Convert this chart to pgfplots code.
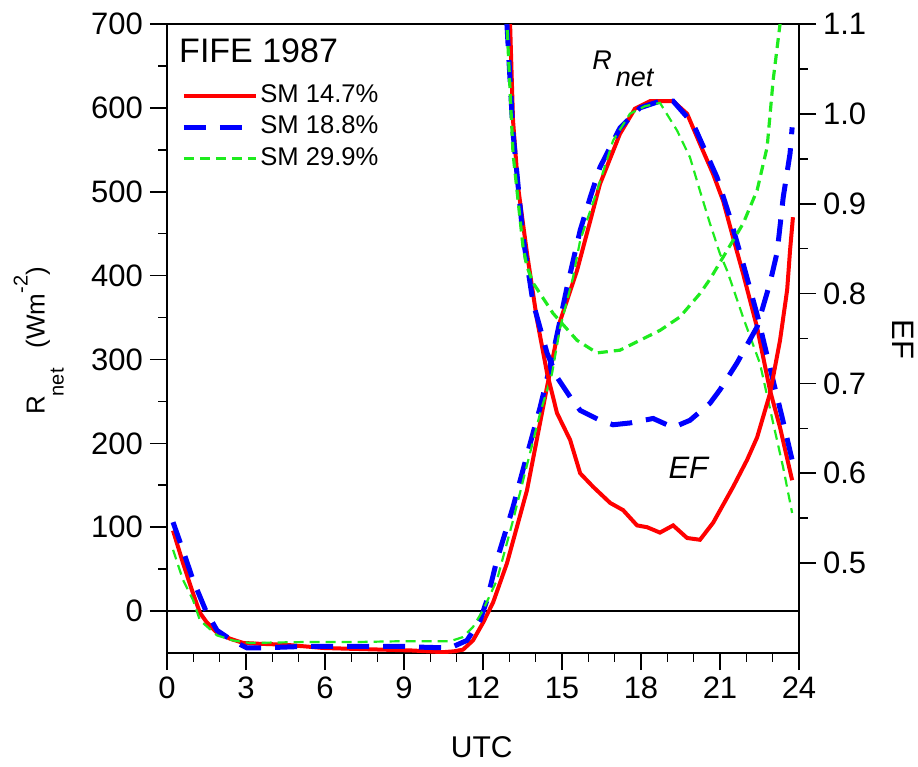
\documentclass[border=0pt]{standalone}
\usepackage{pgfplots}
\pgfplotsset{compat=1.18}
\usepackage{fontspec}
\setmainfont{Liberation Sans}

\definecolor{smred}{RGB}{255,0,0}
\definecolor{smblue}{RGB}{0,0,255}
\definecolor{smgreen}{RGB}{30,235,30}

% ---------- net radiation (W m^-2) ----------
\pgfplotstableread{
x y
0.23 96
0.61 57
1.00 20
1.25 -2
1.50 -13
1.90 -26
2.40 -33
2.89 -38
3.50 -39
4.41 -40
5.20 -42
5.92 -44
7.00 -45
8.20 -46
9.30 -47
10.48 -49
10.90 -48
11.24 -46
11.62 -35
12.00 -14
12.38 10
12.91 57
13.67 144
14.43 267
14.93 346
15.57 406
16.07 465
16.44 509
17.20 569
17.77 599
18.34 608
19.22 608
19.75 593
20.24 557
20.74 521
21.12 489
21.50 445
21.88 402
22.41 338
22.90 263
23.28 219
23.74 156
}\rnetA

\pgfplotstableread{
x y
0.23 106
0.61 72
0.99 37
1.48 0
1.90 -23
2.47 -35
3.04 -44
3.53 -44
5.32 -42
7.22 -42
8.96 -42
9.60 -43
10.75 -44
11.39 -35
11.89 -11
12.15 13
12.53 61
13.14 124
13.67 186
14.17 243
14.66 307
15.19 386
15.69 454
16.07 493
16.44 529
17.20 576
17.96 600
18.72 608
19.22 608
19.98 581
20.89 517
21.38 469
21.88 414
22.44 350
22.90 290
23.36 231
23.74 180
}\rnetB

\pgfplotstableread{
x y
0.23 73
0.61 37
0.99 13
1.25 -11
1.90 -29
2.50 -35
3.15 -38
5.05 -37
6.95 -37
8.85 -36
10.75 -36
11.24 -31
11.62 -19
12.00 1
12.53 37
13.14 108
13.67 174
14.17 236
14.62 283
14.93 338
15.42 398
15.69 442
16.33 501
16.94 561
17.58 593
18.15 602
18.72 606
19.37 573
19.86 541
20.24 501
20.62 462
21.00 426
21.27 406
21.88 350
22.52 295
23.02 224
23.40 171
23.74 117
}\rnetC

% ---------- evaporative fraction ----------
\pgfplotstableread{
x y
12.95 1.18
13.03 1.099
13.14 0.993
13.33 0.919
13.67 0.845
14.05 0.771
14.43 0.712
14.81 0.667
15.31 0.637
15.69 0.600
16.18 0.585
16.83 0.567
17.32 0.559
17.85 0.542
18.23 0.540
18.72 0.534
19.22 0.542
19.75 0.528
20.24 0.526
20.74 0.545
21.50 0.585
22.03 0.615
22.41 0.640
22.90 0.689
23.28 0.748
23.55 0.804
23.66 0.848
23.77 0.885
}\efA

\pgfplotstableread{
x y
12.80 1.22
12.91 1.099
13.14 0.979
13.52 0.863
13.90 0.790
14.43 0.734
14.81 0.707
15.31 0.685
15.69 0.670
16.44 0.659
16.94 0.654
17.58 0.656
18.46 0.661
19.22 0.651
19.86 0.659
20.62 0.678
21.00 0.693
21.65 0.723
22.41 0.763
22.90 0.812
23.17 0.846
23.40 0.907
23.66 0.956
23.74 0.985
}\efB

\pgfplotstableread{
x y
12.75 1.20
12.91 1.10
13.14 0.956
13.52 0.852
13.67 0.830
13.90 0.812
14.66 0.778
15.57 0.748
16.33 0.734
17.20 0.737
17.96 0.748
18.72 0.759
19.48 0.774
20.24 0.800
20.62 0.816
21.27 0.848
21.88 0.878
22.41 0.915
22.79 0.963
23.02 1.038
23.28 1.100
23.45 1.180
}\efC

\pgfplotsset{
  sm147/.style={color=smred, line width=2pt, solid},
  sm188/.style={color=smblue, line width=2.5pt, dash pattern=on 11pt off 7pt},
  sm299/.style={color=smgreen, line width=1.2pt, dash pattern=on 5pt off 3pt},
  common/.style={
    at={(0,0)}, anchor=south west,
    scale only axis, width=316pt, height=314.5pt,
    xmin=0, xmax=24,
    tick align=outside,
    major tick length=8.5pt, minor tick length=4.3pt,
    tick style={black, line width=0.8pt},
    axis line style={line width=0.8pt},
    tick label style={font=\fontsize{15.5}{15.5}\selectfont},
    /pgf/number format/assume math mode=true,
  },
}

\begin{document}
\begin{tikzpicture}
\path[use as bounding box] (-83.5pt,-57pt) rectangle (375.5pt,326.5pt);

\begin{axis}[common,
  ymin=-50, ymax=700,
  xtick={0,3,...,24}, minor x tick num=2,
  ytick={0,100,...,700}, minor ytick={50,150,...,650},
  xtick pos=left, ytick pos=left,
  xlabel={UTC},
  xlabel style={font=\fontsize{15}{15}\selectfont, at={(axis description cs:0.498,-0.149)}, anchor=center},
  ylabel={R\raisebox{-9.5pt}{\fontsize{10}{10}\selectfont net}\hspace{10pt}(Wm\raisebox{8.5pt}{\fontsize{10}{10}\selectfont -2})},
  ylabel style={font=\fontsize{13}{13}\selectfont, at={(axis description cs:-0.203,0.496)}, anchor=center},
  legend style={at={(axis description cs:0.022,0.908)}, anchor=north west,
    draw=none, fill=none, font=\fontsize{12.8}{12.8}\selectfont,
    inner sep=0pt, row sep=2.2pt,
    nodes={inner sep=1pt, text height=9pt, text depth=2.5pt}},
  legend image code/.code={\draw[#1] (0pt,0pt) -- (36pt,0pt);},
  legend cell align=left,
]
\addplot[black, line width=0.6pt, forget plot] coordinates {(0,0) (24,0)};
\addplot[sm147] table {\rnetA};
\addlegendentry{SM 14.7\%}
\addplot[sm188] table {\rnetB};
\addlegendentry{SM 18.8\%}
\addplot[sm299, line width=1.1pt] table {\rnetC};
\addlegendentry{SM 29.9\%}

\node[anchor=west, inner sep=0pt, font=\fontsize{17}{17}\selectfont] at (axis cs:0.45,668) {FIFE 1987};
\node[anchor=base west, inner sep=0pt, font=\fontsize{13.5}{13.5}\selectfont\itshape] at (axis cs:16.14,646) {R\hspace{2pt}\raisebox{-8.5pt}{net}};
\node[anchor=base west, inner sep=0pt, font=\fontsize{15.5}{15.5}\selectfont\itshape] at (axis cs:19.03,158) {EF};
\end{axis}

\begin{axis}[common,
  ymin=0.4, ymax=1.1,
  axis x line=none, axis y line*=right,
  ytick={0.5,0.6,0.7,0.8,0.9,1.0,1.1},
  minor ytick={0.55,0.65,0.75,0.85,0.95,1.05},
  yticklabel style={/pgf/number format/.cd, fixed, fixed zerofill, precision=1},
  ylabel={EF},
  ylabel style={font=\fontsize{15.5}{15.5}\selectfont, at={(axis description cs:1.165,0.498)}, anchor=center, rotate=180},
]
\addplot[sm147] table {\efA};
\addplot[sm188] table {\efB};
\addplot[sm299, line width=1.6pt] table {\efC};
\end{axis}
\end{tikzpicture}
\end{document}
